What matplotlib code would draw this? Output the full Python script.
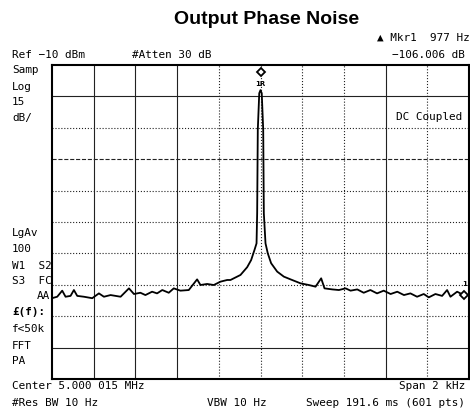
import matplotlib
matplotlib.use('Agg')
import matplotlib.pyplot as plt

# trace: offset from center (Hz) and level (dBm)
freq_hz = [-1000, -975, -951, -935, -911, -895, -879, -847, -807, -775, -751, -719, -671,
           -631, -607, -576, -552, -520, -496, -471, -440, -416, -384, -344, -304, -288,
           -256, -224, -192, -160, -144, -96, -64, -45, -29, -19, -16, -13, -6, 0,
           6, 13, 16, 24, 35, 51, 80, 112, 144, 192, 232, 264, 291, 307, 344, 376,
           408, 432, 464, 495, 527, 559, 591, 624, 656, 688, 719, 751, 783, 807, 839,
           871, 895, 911, 943, 975, 1000]
level_dbm = [-121.4, -120.7, -117.8, -120.7, -120.3, -117.5, -120.3, -120.7, -121.4, -119.1,
             -120.7, -119.9, -120.7, -116.7, -119.4, -118.8, -119.9, -118.3, -119.1, -117.5,
             -118.8, -116.7, -117.8, -117.5, -112.4, -115.1, -114.6, -115.1, -113.5, -112.7,
             -112.7, -110.3, -106.6, -103.2, -98.4, -95.2, -80.8, -41.0, -23.5, -22.0,
             -23.5, -41.0, -80.8, -95.2, -100.0, -104.7, -108.7, -111.1, -112.4, -114.3,
             -115.1, -115.9, -111.9, -116.7, -117.2, -117.5, -116.7, -117.8, -117.2, -118.8,
             -117.5, -119.1, -117.8, -119.4, -118.3, -119.9, -119.1, -120.7, -119.4, -121.0,
             -119.4, -120.3, -117.5, -120.7, -118.3, -119.9, -119.9]

ref_level = -10
db_per_div = 15
span_hz = 2000

x_grid = [-800, -600, -400, -200, 0, 200, 400, 600, 800]
x_styles = ['-', '-', '-', ':', ':', ':', ':', '-', ':']
y_grid = [-25, -40, -55, -70, -85, -100, -115, -130, -145]
y_styles = ['-', ':', '--', ':', ':', ':', ':', ':', '-']

left_labels = [('Samp', 70), ('Log', 87), ('15', 102), ('dB/', 118),
               ('LgAv', 233), ('100', 249), ('W1  S2', 266), ('S3  FC', 281),
               ('f<50k', 329), ('FFT', 346), ('PA', 361)]

W, H = 470, 413
fig = plt.figure(figsize=(W / 100, H / 100), dpi=100)
ax = fig.add_axes([52 / W, 1 - 379 / H, 417 / W, 314 / H])

def ftext(x, y, s, **kw):
	kw.setdefault('family', ['DejaVu Sans Mono', 'DejaVu Sans'])
	kw.setdefault('fontsize', 7.9)
	kw.setdefault('va', 'center')
	fig.text(x / W, 1 - y / H, s, **kw)

ax.set_xlim(-span_hz / 2, span_hz / 2)
ax.set_ylim(ref_level - 10 * db_per_div, ref_level)
for xv, ls in zip(x_grid, x_styles):
	ax.axvline(xv, color='#222222', lw=0.8, ls=ls, zorder=1)
for yv, ls in zip(y_grid, y_styles):
	ax.axhline(yv, color='#222222', lw=0.8, ls=ls, zorder=1)

ax.plot(freq_hz, level_dbm, color='black', lw=1.3, zorder=3)

# markers
ax.plot([0], [-13.3], marker='D', ms=4.5, mfc='white', mec='black', mew=1.3, zorder=4, clip_on=False)
ax.text(0, -19, '1R', fontsize=5, fontweight='bold', ha='center', va='center', zorder=4)
ax.plot([977], [-119.9], marker='D', ms=4.5, mfc='white', mec='black', mew=1.3, zorder=4, clip_on=False)
ax.text(977, -114.5, '1', fontsize=5, fontweight='bold', ha='center', va='center', zorder=4)
ax.text(0.985, -52 / 314 + 1, 'DC Coupled', transform=ax.transAxes, ha='right', va='center',
        fontsize=7.9, family=['DejaVu Sans Mono', 'DejaVu Sans'])

ax.set_xticks([])
ax.set_yticks([])
for sp in ax.spines.values():
	sp.set_linewidth(1.5)

fig.text(267 / W, 1 - 20 / H, 'Output Phase Noise', ha='center', va='center',
         fontsize=14, fontweight='bold', family='Liberation Sans')

ftext(377, 38, '\u25b2 Mkr1  977 Hz')
ftext(465, 55, '\u2212106.006 dB', ha='right')
ftext(12, 55, 'Ref \u221210 dBm')
ftext(132, 55, '#Atten 30 dB')
for s, y in left_labels:
	ftext(12, y, s)
ftext(50, 296, 'AA', ha='right')
ftext(12, 312, '\u00a3(f):', fontweight='bold')
ftext(12, 386, 'Center 5.000 015 MHz')
ftext(465, 386, 'Span 2 kHz', ha='right')
ftext(12, 403, '#Res BW 10 Hz')
ftext(207, 403, 'VBW 10 Hz')
ftext(465, 403, 'Sweep 191.6 ms (601 pts)', ha='right')

fig.savefig('out.png', dpi=100)
